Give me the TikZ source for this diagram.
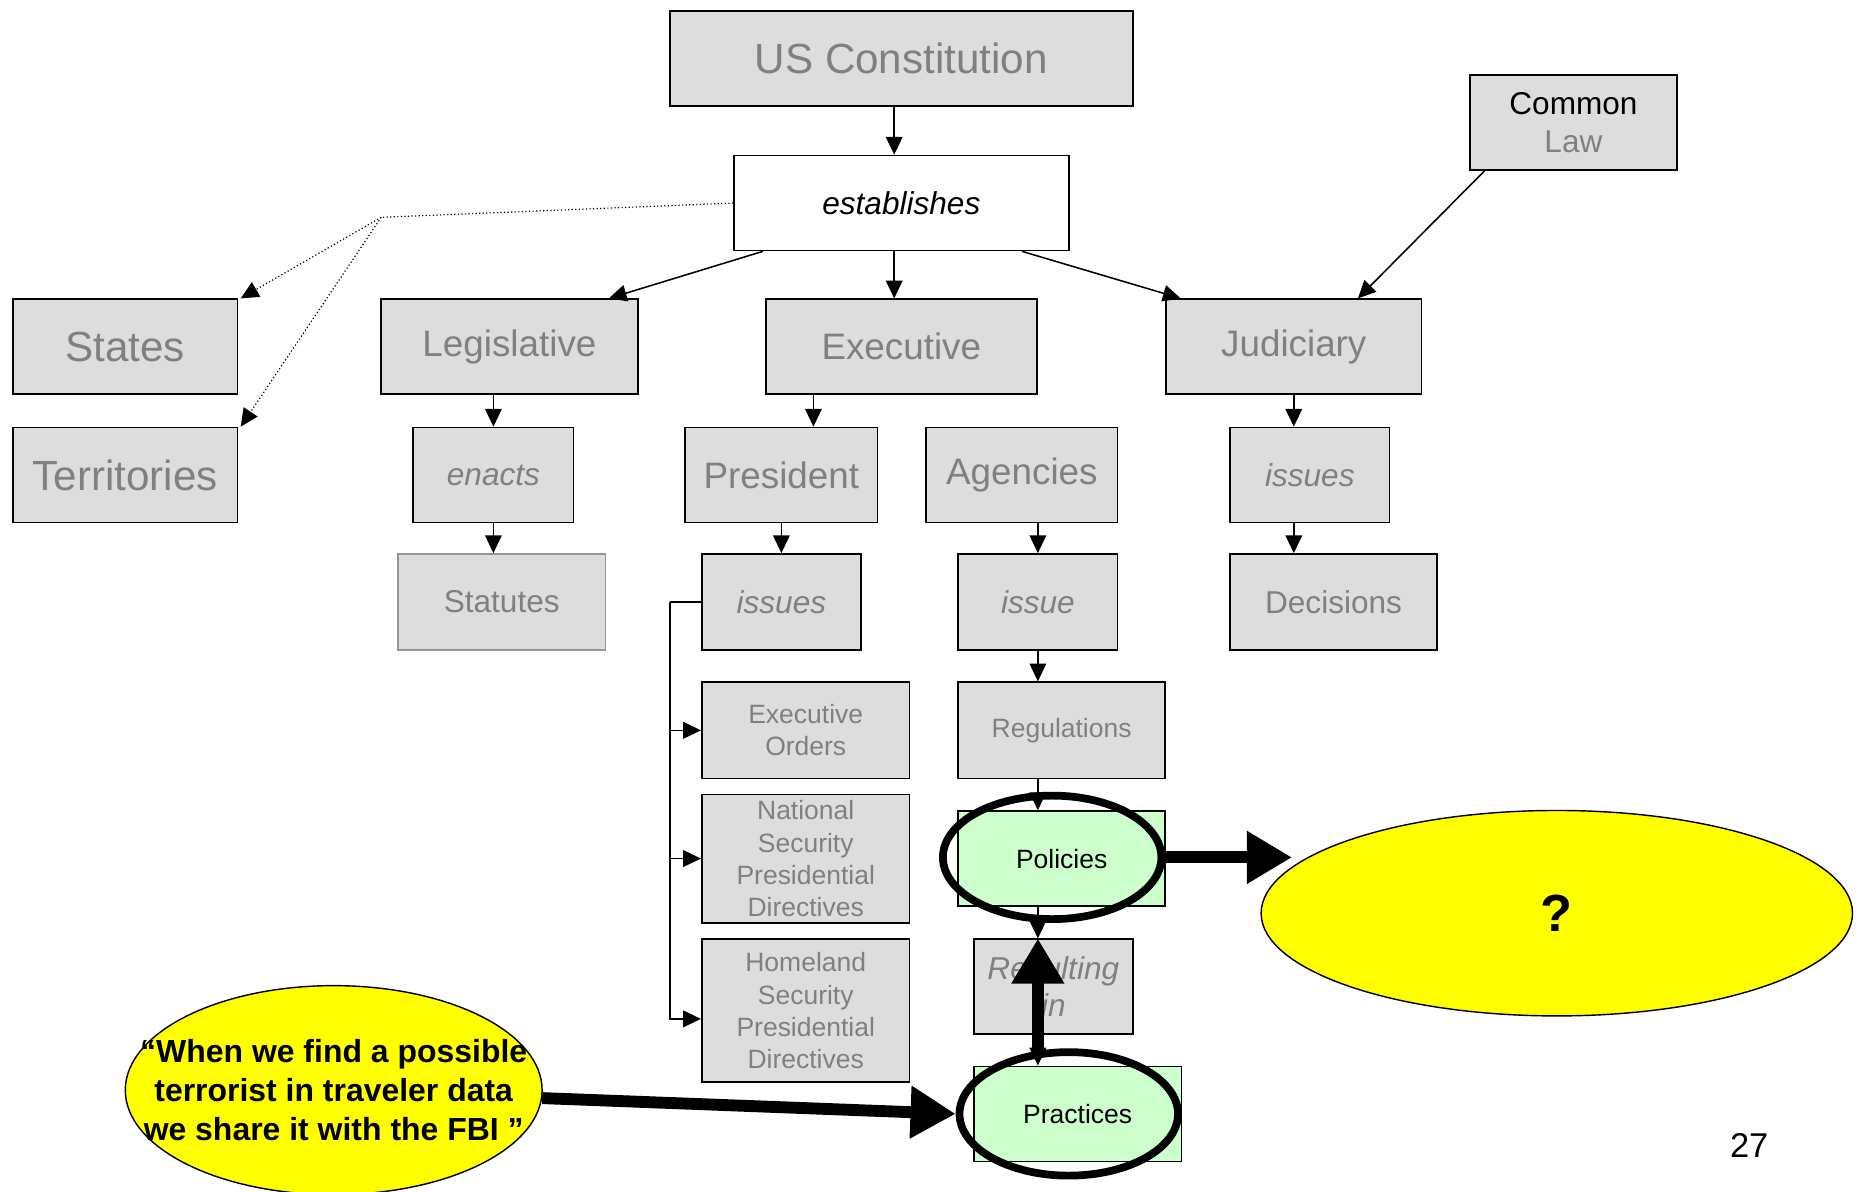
\documentclass[tikz,border=0pt]{standalone}
\usepackage{fontspec}
\setmainfont{Liberation Sans}
\usetikzlibrary{shapes.geometric,arrows.meta,calc}
\definecolor{boxfill}{RGB}{221,221,221}
\definecolor{boxtext}{RGB}{128,128,128}
\definecolor{leaf}{RGB}{204,255,204}
\definecolor{hilite}{RGB}{255,255,0}
\definecolor{softedge}{RGB}{150,150,150}

\begin{document}
\begin{tikzpicture}[x=1pt,y=-1pt,
  box/.style={rectangle,draw=black,line width=1.4pt,fill=boxfill,text=boxtext,inner sep=0pt,align=center},
  greenbox/.style={box,fill=leaf,text=black},
  wh/.style 2 args={minimum width=#1pt,minimum height=#2pt},
  fbig/.style={font=\fontsize{35.5}{42}\selectfont},
  fmid/.style={font=\fontsize{31}{37}\selectfont},
  fsml/.style={font=\fontsize{26.6}{32}\selectfont},
  fsmlit/.style={font=\fontsize{26.6}{31}\selectfont\itshape},
  ftiny/.style={font=\fontsize{22.3}{27}\selectfont},
  link/.style={line width=1.3pt,-{Triangle[length=15pt,width=14pt]}},
  hint/.style={line width=1pt,dotted,-{Triangle[length=15pt,width=14pt]}},
  ring/.style={ellipse,draw=black,line width=6.5pt,inner sep=0pt},
  heavy/.style={line width=10pt,-{Triangle[length=38pt,width=42pt]}},
  bubble/.style={ellipse,draw=black,line width=1.2pt,fill=hilite,inner sep=0pt}
]
\useasboundingbox (0,0) rectangle (1568,1003);

% top of the hierarchy
\node[box,wh={390}{80},fbig] (const) at (759,49) {US Constitution};
\node[box,wh={282}{80},fill=white,text=black,fsmlit] (estab) at (759,171) {establishes};
\node[box,wh={174}{80},fsml] (common) at (1325,103) {\textcolor{black}{Common}\\Law};

% first level
\node[box,wh={189}{80},fbig] (states) at (105.5,292) {States};
\node[box,wh={189}{80},fbig] (terr) at (105.5,400) {Territories};
\node[box,wh={216}{80},fmid] (legis) at (429,292) {Legislative};
\node[box,wh={228}{80},fmid] (exec) at (759,292) {Executive};
\node[box,wh={215}{80},fmid] (judic) at (1089.5,292) {Judiciary};

% second level
\node[box,wh={135}{80},fsmlit] (enacts) at (415.5,400) {enacts};
\node[box,wh={162}{80},fmid] (pres) at (658,400) {President};
\node[box,wh={161}{80},fmid] (agency) at (860.5,400) {Agencies};
\node[box,wh={134}{80},fsmlit] (jissues) at (1103,400) {issues};

% third level
\node[box,wh={175}{81},fsml,draw=softedge] (statutes) at (422.5,507) {Statutes};
\node[box,wh={134}{81},fsmlit] (pissues) at (658,507) {issues};
\node[box,wh={134}{81},fsmlit] (aissue) at (874,507) {issue};
\node[box,wh={174}{81},fsml] (decis) at (1123,507) {Decisions};

% instruments
\node[box,wh={175}{81},ftiny] (eo) at (678.5,615) {Executive\\Orders};
\node[box,wh={175}{108},ftiny] (nspd) at (678.5,723) {National\\Security\\Presidential\\Directives};
\node[box,wh={175}{120},ftiny] (hspd) at (678.5,851) {Homeland\\Security\\Presidential\\Directives};
\node[box,wh={174}{81},ftiny] (regs) at (894,615) {Regulations};
\node[greenbox,wh={174}{80},ftiny] (policies) at (894,723) {Policies};
\node[box,wh={134}{80},fsmlit] (result) at (887,831) {Resulting\\in};
\node[greenbox,wh={175}{80},ftiny] (practices) at (907.5,938) {Practices};

% connectors between the boxes
\draw[link] ($(const.south)+(-6,0)$) -- ($(estab.north)+(-6,0)$);
\draw[link] ($(estab.south)+(-6,0)$) -- ($(exec.north)+(-6,0)$);
\draw[link] ($(estab.south west)+(25,0)$) -- ($(legis.north east)+(-25,0)$);
\draw[link] ($(estab.south east)+(-40,0)$) -- ($(judic.north west)+(13,0)$);
\draw[link] ($(common.south west)+(13,0)$) -- ($(judic.north)+(54,0)$);

\coordinate (fork) at (321,183);
\draw[line width=1pt,dotted] (estab.west) -- (fork);
\draw[hint] (fork) -- ($(states.north east)+(2,0)$);
\draw[hint] (fork) -- ($(terr.north east)+(2,0)$);

\coordinate (presin) at ($(pres.north)+(27,0)$);
\draw[link] (legis.south -| enacts.north) -- (enacts.north);
\draw[link] (enacts.south) -- (enacts.south |- statutes.north);
\draw[link] (presin |- exec.south) -- (presin);
\draw[link] (pres.south) -- (pissues.north);
\draw[link] (agency.south -| aissue.north) -- (aissue.north);
\draw[link] (aissue.south) -- (aissue.south |- regs.north);
\draw[link] (regs.south -| aissue.south) -- (policies.north -| aissue.south);
\draw[link] (policies.south -| aissue.south) -- (result.north -| aissue.south);
\draw[link] (result.south -| aissue.south) -- (practices.north -| aissue.south);
\draw[link] (judic.south) -- (judic.south |- jissues.north);
\draw[link] (jissues.south -| judic.south) -- (decis.north -| judic.south);

\coordinate (bus) at (564,507);
\draw[line width=1.3pt] (pissues.west) -- (bus);
\draw[link] (bus) |- (eo.west);
\draw[link] (bus) |- (nspd.west);
\draw[link] (bus) |- ($(hspd.west)+(0,7)$);

% highlighted elements
\node[ring,minimum width=184pt,minimum height=104pt] (polring) at (886,722) {};
\node[ring,minimum width=184pt,minimum height=104pt] (pracring) at (900,938) {};

\node[bubble,minimum width=498pt,minimum height=173pt] (quest) at (1311,769) {};
\node[font=\fontsize{44}{50}\selectfont\bfseries] (questtext) at (quest) {?};
\node[bubble,minimum width=351pt,minimum height=176pt] (quote) at (281,918) {};
\node[align=center,font=\fontsize{26.9}{32.5}\selectfont\bfseries] (quotetext) at (quote)
  {“When we find a possible\\terrorist in traveler data\\we share it with the FBI ”};

\coordinate (questin) at (1088,722);
\draw[heavy] (polring.east) -- (questin);
\draw[heavy] (quote) -- (pracring.west);
\draw[heavy] (pracring.north -| aissue.south) -- (result.north -| aissue.south);

\node[font=\fontsize{29}{34}\selectfont] (pagenum) at (1473,965) {27};
\end{tikzpicture}
\end{document}
